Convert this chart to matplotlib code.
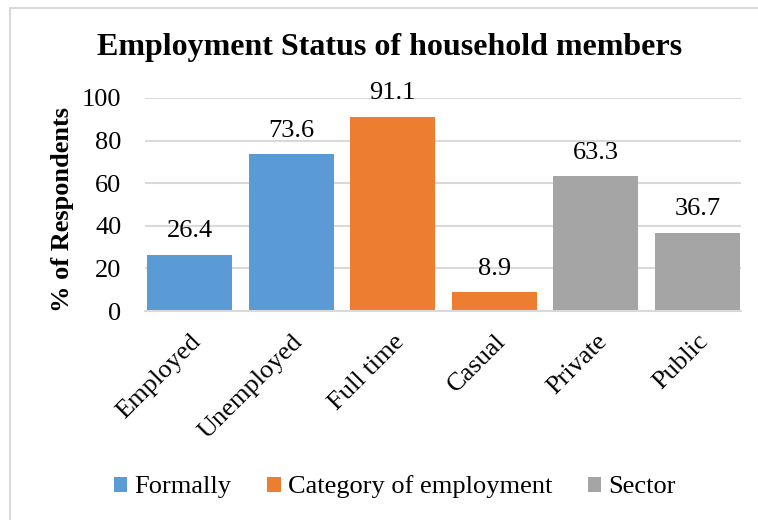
import matplotlib
matplotlib.use("Agg")
import matplotlib.pyplot as plt
from matplotlib.patches import Rectangle, Patch

plt.rcParams['font.family'] = ['Liberation Serif', 'DejaVu Serif']

categories = ['Employed', 'Unemployed', 'Full time', 'Casual', 'Private', 'Public']
values = [26.4, 73.6, 91.1, 8.9, 63.3, 36.7]
groups = ['Formally', 'Formally', 'Category of employment', 'Category of employment',
          'Sector', 'Sector']
group_names = ['Formally', 'Category of employment', 'Sector']
group_colors = {'Formally': '#5B9BD5', 'Category of employment': '#ED7D31', 'Sector': '#A5A5A5'}
yticks = [0, 20, 40, 60, 80, 100]

fig = plt.figure(figsize=(7.58, 5.2), dpi=100)
# light chart-area border (runs off the right and bottom edges)
fig.patches.append(Rectangle((10 / 758, -0.05), 1.0, 1 - 8 / 520 + 0.05,
                             transform=fig.transFigure, fill=False,
                             edgecolor='#D9D9D9', linewidth=1.5))

ax = fig.add_axes([145 / 758, 1 - 311 / 520, 596 / 758, 213 / 520])
x = range(len(categories))
bars = ax.bar(x, values, width=0.84, color=[group_colors[g] for g in groups], zorder=2)

for b, v in zip(bars, values):
    ax.annotate(f'{v}', (b.get_x() + b.get_width() / 2, v), xytext=(0, 9),
                textcoords='offset points', ha='center', va='bottom', fontsize=19)

ax.set_xlim(-0.44, 5.43)
ax.set_ylim(0, 100)
ax.set_yticks(yticks)
ax.set_yticklabels([str(t) for t in yticks], fontsize=19)
ax.yaxis.grid(True, color='#D9D9D9', linewidth=1.5, zorder=0)
ax.set_axisbelow(True)
for s in ['top', 'right', 'left']:
    ax.spines[s].set_visible(False)
ax.spines['bottom'].set_color('#D9D9D9')
ax.spines['bottom'].set_linewidth(1.5)
ax.tick_params(axis='y', length=0, pad=17)

ax.set_xticks(list(x))
ax.set_xticklabels(categories, rotation=45, ha='right', va='top',
                   rotation_mode='anchor', fontsize=19)
ax.tick_params(axis='x', length=0, pad=14)

fig.text(62 / 758, 1 - 209 / 520, '% of Respondents', rotation=90,
         ha='center', va='center', fontsize=19, fontweight='bold')
fig.text(390 / 758, 1 - 47 / 520, 'Employment Status of household members',
         ha='center', va='center', fontsize=23, fontweight='bold')

handles = [Patch(facecolor=group_colors[g], label=g) for g in group_names]
fig.legend(handles=handles, loc='center', bbox_to_anchor=(395 / 758, 1 - 487 / 520),
           ncol=3, frameon=False, fontsize=19, handlelength=0.5, handleheight=0.5,
           handletextpad=0.27, columnspacing=1.36, borderpad=0)

fig.savefig('out.png', dpi=100)
